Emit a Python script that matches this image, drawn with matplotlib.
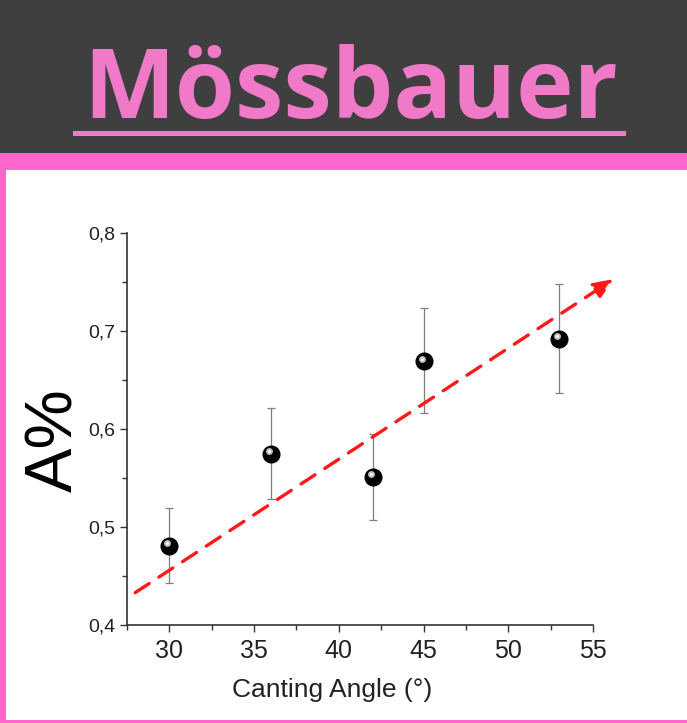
import matplotlib.pyplot as plt
import matplotlib.transforms as mtransforms
from matplotlib.patches import Rectangle
from matplotlib.ticker import MultipleLocator, FuncFormatter

# data
angles = [30, 36, 42, 45, 53]
a_pct = [0.481, 0.575, 0.551, 0.669, 0.692]
err_low = [0.443, 0.529, 0.507, 0.616, 0.637]
err_high = [0.519, 0.621, 0.595, 0.723, 0.748]
trend_x = [28.0, 56.2]
trend_y = [0.433, 0.753]

title = 'Mössbauer'
x_label = 'Canting Angle (°)'
y_label = 'A%'

W, H = 687, 723
fig = plt.figure(figsize=(W / 100, H / 100), dpi=100)
fig.patch.set_facecolor('white')

# header band, pink stripe and pink frame
fig.patches.append(Rectangle((0, 1 - 153 / H), 1, 153 / H, transform=fig.transFigure,
                             facecolor='#3f3f3f', edgecolor='none', zorder=0))
fig.patches.append(Rectangle((0, 1 - 170 / H), 1, 17 / H, transform=fig.transFigure,
                             facecolor='#ff66cc', edgecolor='none', zorder=0))
fig.patches.append(Rectangle((0, 0), 6 / W, 1 - 170 / H, transform=fig.transFigure,
                             facecolor='#ff66cc', edgecolor='none', zorder=0))
fig.patches.append(Rectangle((0, 0), 1, 3 / H, transform=fig.transFigure,
                             facecolor='#ff66cc', edgecolor='none', zorder=0))

fig.text(351 / W, 1 - 118 / H, title, ha='center', va='baseline', color='#f07ac8',
         fontsize=70, fontweight='bold', family='Open Sans')
fig.patches.append(Rectangle((73 / W, 1 - 136 / H), 553 / W, 5 / H, transform=fig.transFigure,
                             facecolor='#f07ac8', edgecolor='none', zorder=1))

ax = fig.add_axes([126.7 / W, 1 - 625 / H, (593.3 - 126.7) / W, (625 - 233) / H])
ax.set_xlim(27.5, 55)
ax.set_ylim(0.4, 0.8)

lower = [v - lo for v, lo in zip(a_pct, err_low)]
upper = [hi - v for v, hi in zip(a_pct, err_high)]
ax.errorbar(angles, a_pct, yerr=[lower, upper], fmt='none', ecolor='#7f7f7f',
            elinewidth=0.9, capsize=3, capthick=0.9, zorder=2)

# dashed red trend arrow
ax.annotate('', xy=(trend_x[1], trend_y[1]), xytext=(trend_x[0], trend_y[0]),
            annotation_clip=False,
            arrowprops=dict(arrowstyle='-|>,head_length=1.2,head_width=0.5',
                            color='#ff1a1a', lw=2.4, linestyle=(0, (5, 3.5)),
                            shrinkA=0, shrinkB=0), zorder=3)

# glossy black balls
ax.plot(angles, a_pct, 'o', color='black', markersize=12, zorder=4)
hl = mtransforms.offset_copy(ax.transData, fig=fig, x=-1.5, y=2, units='points')
ax.plot(angles, a_pct, 'o', color='#bdbdbd', markersize=5, markeredgewidth=0,
        transform=hl, zorder=5)
ax.plot(angles, a_pct, 'o', color='white', markersize=2.2, markeredgewidth=0,
        transform=hl, zorder=6)

for side in ['top', 'right']:
    ax.spines[side].set_visible(False)
for side in ['left', 'bottom']:
    ax.spines[side].set_color('#333333')
    ax.spines[side].set_linewidth(1.2)

ax.xaxis.set_major_locator(MultipleLocator(5))
ax.xaxis.set_minor_locator(MultipleLocator(2.5))
ax.yaxis.set_major_locator(MultipleLocator(0.1))
ax.yaxis.set_minor_locator(MultipleLocator(0.05))
ax.yaxis.set_major_formatter(FuncFormatter(lambda v, p: f'{v:.1f}'.replace('.', ',')))
ax.tick_params(which='major', direction='out', length=5, width=1, color='#333333')
ax.tick_params(which='minor', direction='out', length=3.5, width=1, color='#333333')
ax.tick_params(axis='x', labelsize=18, pad=5)
ax.tick_params(axis='y', labelsize=14, pad=3)
for lab in ax.get_xticklabels() + ax.get_yticklabels():
    lab.set_family('Liberation Sans')
    lab.set_color('#222222')

fig.text(332 / W, 1 - 690 / H, x_label, ha='center', va='center', fontsize=19,
         family='Liberation Sans', color='#222222')
fig.text(55 / W, 1 - 440 / H, y_label, ha='center', va='center', fontsize=48,
         rotation=90, family='Liberation Sans', color='black')

fig.savefig('out.png', dpi=100)
